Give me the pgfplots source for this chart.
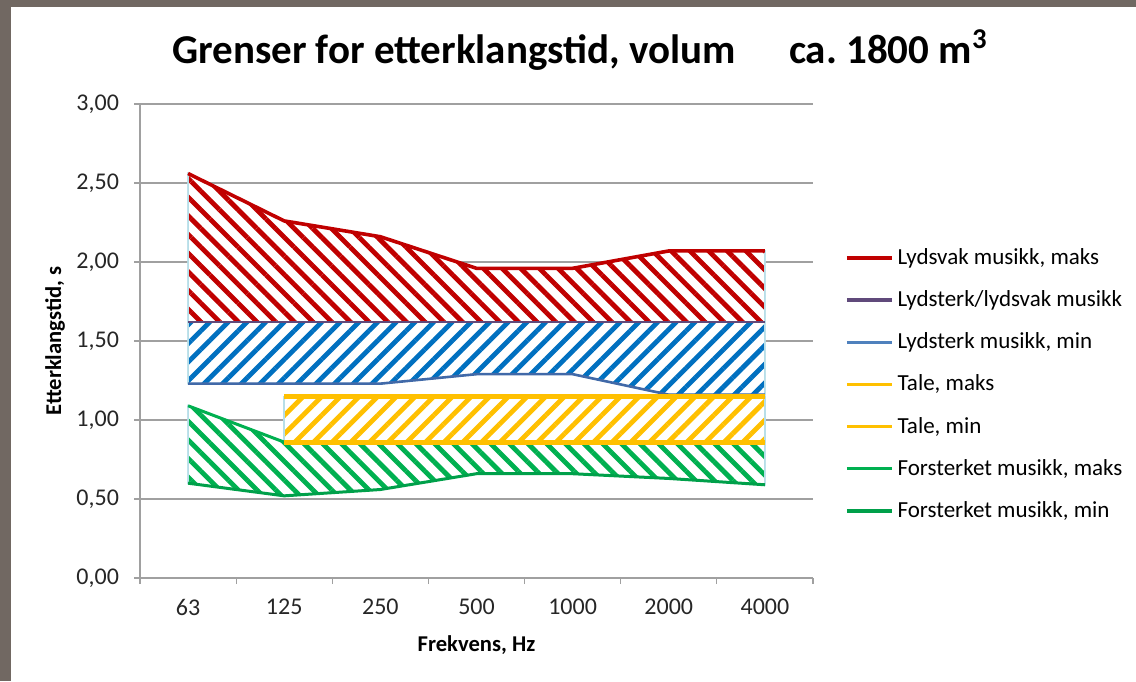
\documentclass[border=0pt]{standalone}
\usepackage{fontspec}
\setmainfont{Carlito}
\usepackage{pgfplots}
\usepackage{pgfplotstable}
\pgfplotsset{compat=1.18}
\usetikzlibrary{patterns.meta}
\definecolor{cred}{HTML}{C00000}
\definecolor{cpurple}{HTML}{604A7B}
\definecolor{cblueline}{HTML}{4169A8}
\definecolor{cbluelegend}{HTML}{4F81BD}
\definecolor{cblue}{HTML}{0070C0}
\definecolor{cyellow}{HTML}{FFC000}
\definecolor{cgreen}{HTML}{00B050}
\definecolor{cgreenline}{HTML}{00A04A}
\definecolor{cedge}{HTML}{B7DEE8}
\definecolor{framegray}{HTML}{716862}
\definecolor{gridgray}{HTML}{A0A0A0}

\pgfplotstableread{
x rmax purple bmin gmax gmin
0 2.56 1.62 1.23 1.09 0.60
1 2.26 1.62 1.23 0.86 0.52
2 2.16 1.62 1.23 0.86 0.56
3 1.96 1.62 1.29 0.86 0.66
4 1.96 1.62 1.29 0.86 0.66
5 2.07 1.62 1.16 0.86 0.63
6 2.07 1.62 1.16 0.86 0.59
}\maindata

\pgfplotstableread{
x tmax tmin
1 1.15 0.86
2 1.15 0.86
3 1.15 0.86
4 1.15 0.86
5 1.15 0.86
6 1.15 0.86
}\taledata

\begin{document}
\begin{tikzpicture}
\path[use as bounding box] (0pt,0pt) rectangle (568pt,340.5pt);
\fill[framegray] (0pt,0pt) rectangle (5.5pt,340.5pt);
\fill[framegray] (0pt,337pt) rectangle (568pt,340.5pt);
\node[anchor=base, font=\bfseries\fontsize{20.5}{24}\selectfont] at (290pt,308.5pt) {Grenser for etterklangstid, volum\hspace{1.3em}ca.\ 1800 m\textsuperscript{3}};
\begin{axis}[
  at={(70pt,51.5pt)}, anchor=south west,
  scale only axis, width=336.5pt, height=237pt,
  xmin=-0.5, xmax=6.5, ymin=0, ymax=3,
  xtick={0,...,6},
  xticklabels={63,125,250,500,1000,2000,4000},
  minor xtick={-0.5,0.5,...,6.5},
  ytick={0,0.5,...,3},
  axis x line*=bottom, axis y line*=left,
  axis line style={gridgray, line width=0.7pt, -},
  ymajorgrids, grid style={gridgray, line width=0.7pt},
  tick align=outside,
  major tick length=3pt, minor tick length=3pt,
  xtick style={draw=none},
  minor x tick style={draw=gridgray, line width=0.6pt},
  ytick style={gridgray, line width=0.6pt},
  tick label style={font=\fontsize{12}{14}\selectfont, text=black!85},
  yticklabel style={xshift=-4pt},
  xticklabel style={yshift=-4pt},
  /pgf/number format/assume math mode=true,
  yticklabel={\pgfmathprintnumber[fixed, fixed zerofill, precision=2, use comma]{\tick}},
  xlabel={Frekvens, Hz},
  ylabel={Etterklangstid, s},
  every axis x label/.style={at={(axis description cs:0.5,-0.1414)}, anchor=center, font=\bfseries\fontsize{11.3}{13}\selectfont},
  every axis y label/.style={at={(axis description cs:-0.1263,0.5)}, anchor=center, rotate=90, font=\bfseries\fontsize{11.3}{13}\selectfont},
  legend style={at={(1.0386,0.713)}, anchor=north west, draw=none, fill=none,
    font=\fontsize{11.5}{13}\selectfont, row sep=7.6pt},
  legend cell align=left,
  legend image code/.code={\draw[#1, line width=1.6pt] (0pt,0pt) -- (22.5pt,0pt);},
]
% areas (polygons from the same values)
\addplot[fill=white, draw=cedge, line width=0.8pt, postaction={pattern={Lines[angle=-45,distance=6.6pt,line width=2.4pt]}, pattern color=cred}, forget plot]
  coordinates {(0,2.56) (1,2.26) (2,2.16) (3,1.96) (4,1.96) (5,2.07) (6,2.07) (6,1.62) (0,1.62)} -- cycle;
\addplot[fill=white, draw=cedge, line width=0.8pt, postaction={pattern={Lines[angle=45,distance=6.6pt,line width=2.4pt]}, pattern color=cblue}, forget plot]
  coordinates {(0,1.62) (6,1.62) (6,1.16) (5,1.16) (4,1.29) (3,1.29) (2,1.23) (1,1.23) (0,1.23)} -- cycle;
\addplot[fill=white, draw=cedge, line width=0.8pt, postaction={pattern={Lines[angle=-45,distance=6.6pt,line width=2.4pt]}, pattern color=cgreen}, forget plot]
  coordinates {(0,1.09) (1,0.86) (6,0.86) (6,0.59) (5,0.63) (4,0.66) (3,0.66) (2,0.56) (1,0.52) (0,0.60)} -- cycle;
\addplot[fill=white, draw=cedge, line width=0.8pt, postaction={pattern={Lines[angle=45,distance=6.6pt,line width=2.4pt]}, pattern color=cyellow}, forget plot]
  coordinates {(1,1.15) (6,1.15) (6,0.86) (1,0.86)} -- cycle;
% lines
\addplot[cred, line width=1.8pt] table[x=x,y=rmax]{\maindata};
\addlegendentry{Lydsvak musikk, maks}
\addplot[cpurple, line width=1.4pt] table[x=x,y=purple]{\maindata};
\addlegendentry{Lydsterk/lydsvak musikk}
\addplot[cblueline, line width=1.3pt, legend image post style={cbluelegend}] table[x=x,y=bmin]{\maindata};
\addlegendentry{Lydsterk musikk, min}
\addplot[cyellow, line width=2.6pt] table[x=x,y=tmax]{\taledata};
\addlegendentry{Tale, maks}
\addplot[cyellow, line width=2.6pt] table[x=x,y=tmin]{\taledata};
\addlegendentry{Tale, min}
\addplot[cgreen, line width=1.5pt] table[x=x,y=gmax]{\maindata};
\addlegendentry{Forsterket musikk, maks}
\addplot[cgreenline, line width=1.5pt] table[x=x,y=gmin]{\maindata};
\addlegendentry{Forsterket musikk, min}
% Tale, min drawn again on top of the hidden green maks line
\addplot[cyellow, line width=2.6pt, forget plot] table[x=x,y=tmin]{\taledata};
\end{axis}
\end{tikzpicture}
\end{document}
